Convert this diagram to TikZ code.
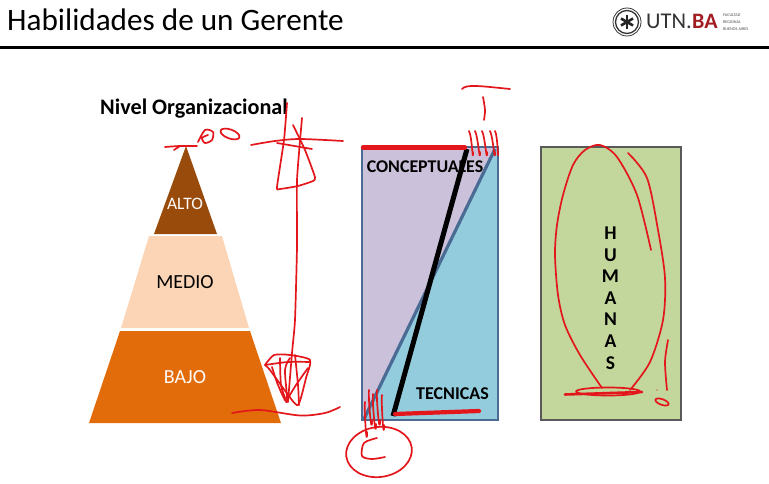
\documentclass[tikz,border=0pt]{standalone}
\usepackage{fontspec}
\setmainfont{Carlito}
\usetikzlibrary{positioning}
\definecolor{altocol}{HTML}{984B0B}
\definecolor{mediocol}{HTML}{FBD5B5}
\definecolor{bajocol}{HTML}{E36C0A}
\definecolor{purplecol}{HTML}{CCC1DA}
\definecolor{bluecol}{HTML}{93CDDD}
\definecolor{greencol}{HTML}{C3D69B}
\definecolor{edgecol}{HTML}{4A6B94}
\definecolor{inkcol}{HTML}{E3161B}
\definecolor{bacol}{HTML}{A11D21}
\tikzset{
  ink/.style={draw=inkcol, line width=1.7pt, line cap=round, line join=round},
  inkthick/.style={draw=inkcol, line width=4.2pt, line cap=round},
  label/.style={inner sep=0pt},
}
\begin{document}
\begin{tikzpicture}[x=1pt,y=-1pt]
    \useasboundingbox (0,0) rectangle (769,484);

    % Header
    \node[anchor=base west, inner sep=0pt, font=\fontsize{31.2}{33}\selectfont] (title) at (7,31) {Habilidades de un Gerente};
    \fill[black] (0,46.5) rectangle (769,49);

    % Logo
    \draw[line width=0.8pt, black!80] (627,22) circle (14);
    \draw[line width=1.3pt, black!80] (627,22) circle (11.5);
    \foreach \logoang in {90,150,210}
        \draw[line width=2.6pt, black!85] (\logoang:-7) ++(627,22) -- ++(\logoang:14);
    \node[anchor=base west, inner sep=0pt, font=\fontsize{22.5}{24}\selectfont, text=black!80] (logoutn) at (646,28.5) {UTN.};
    \node[anchor=base west, inner sep=0pt, font=\bfseries\fontsize{22}{24}\selectfont, text=bacol] (logoba) at (692,28.5) {BA};
    \node[anchor=west, inner sep=0pt, align=left, font=\fontsize{4.2}{7}\selectfont, text=black!70] (logotext) at (723,22) {FACULTAD\\REGIONAL\\BUENOS AIRES};

    % Pyramid
    \fill[altocol] (186,146) -- (217,234) -- (154,234) -- cycle;
    \fill[mediocol] (149,236) -- (222,236) -- (249,328) -- (121,328) -- cycle;
    \fill[bajocol] (120,331) -- (250,331) -- (281,423) -- (89,423) -- cycle;
    \node[anchor=base west, inner sep=0pt, font=\bfseries\fontsize{22.2}{24}\selectfont] (nivel) at (100,115) {Nivel Organizacional};
    \node[label, text=white!90!mediocol, font=\fontsize{17.5}{19}\selectfont] (alto) at (185,204) {ALTO};
    \node[label, font=\fontsize{20}{22}\selectfont] (medio) at (185,282) {MEDIO};
    \node[label, text=white!90!mediocol, font=\fontsize{20}{22}\selectfont] (bajo) at (185,377) {BAJO};

    % Conceptuales and tecnicas
    \fill[purplecol] (362,147) rectangle (498,420);
    \fill[bluecol] (495,147) -- (498,147) -- (498,420) -- (364,420) -- cycle;
    \draw[edgecol, line width=1.6pt] (362,147) rectangle (498,420);
    \draw[edgecol, line width=3.2pt] (364,419) -- (495,149);
    \draw[black, line width=5pt] (393,416) -- (467,149);
    \node[label, font=\bfseries\fontsize{17.9}{19}\selectfont] (conceptuales) at (425,167) {CONCEPTUALES};
    \node[label, font=\bfseries\fontsize{18}{19}\selectfont] (tecnicas) at (452.5,394) {TECNICAS};

    % Humanas
    \draw[fill=greencol, draw=black!65, line width=1.5pt] (541,147) rectangle (681,420);
    \node[inner sep=0pt, align=center, font=\bfseries\fontsize{19.5}{21.6}\selectfont] (humanas) at (610.5,298) {H\\U\\M\\A\\N\\A\\S};

    % Red marks, pyramid
    \draw[ink] plot[smooth] coordinates {(165,147) (180,146) (197,146)};
    \draw[ink] (174,150) -- (180,146);
    \draw[ink] plot[smooth] coordinates {(198,142) (205,130) (213,132) (212,140) (205,143) (202,138) (208,135)};
    \draw[ink, rotate around={-20:(230,134)}] (230,134) ellipse (10 and 4.5);
    \draw[ink] plot[smooth] coordinates {(251,145) (275,141) (300,139) (343,141)};
    \draw[ink] (277,143) -- (312,149);
    \draw[ink] plot[smooth, tension=0.3] coordinates {(287,103) (284,140) (277,187) (280,189) (298,186) (313,181) (315,177) (305,150) (293,125)};
    \draw[ink] plot[smooth, tension=0.3] coordinates {(302,118) (297,180) (297,247) (295,320) (292,353) (288,402)};
    \draw[ink] plot[smooth, tension=0.4] coordinates {(265,365) (274,355) (290,355) (310,360) (306,378) (298,405) (286,392) (270,370) (265,365)};
    \draw[ink] plot[smooth] coordinates {(272,367) (278,385) (287,402) (285,370) (290,358)};
    \draw[ink] plot[smooth] coordinates {(308,368) (296,385) (287,400)};
    \draw[ink] plot[smooth] coordinates {(265,365) (288,362) (310,362)};
    \draw[ink] plot[smooth] coordinates {(295,355) (298,385) (299,405)};
    \draw[ink] plot[smooth] coordinates {(280,358) (281,385) (286,400)};
    \draw[ink] plot[smooth] coordinates {(232,413) (260,410) (300,415.5) (325,413) (340,407)};

    % Red marks, middle box
    \draw[inkthick] (363,147.5) -- (465,147.5);
    \draw[inkthick] (395,414) -- (479,411);
    \draw[ink] (462,89) .. controls (466,84) and (480,86) .. (510,89);
    \draw[ink] plot[smooth] coordinates {(483,97) (485,110) (484,120)};
    \foreach \hatchx/\hatchd in {469/4, 475/5, 482/5, 490/5, 495/3}
        \draw[ink] (\hatchx,131) .. controls +(3,5) and +(0,14) .. ++(\hatchd,21);
    \foreach \hatchx/\hatchd/\hatcht in {365/2/402, 369/3/390, 373/3/394, 377/3/390, 382/2/395}
        \draw[ink] (\hatchx,\hatcht) .. controls +(-1,8) and +(0,20) .. ++(\hatchd,30);
    \draw[ink, rotate around={8:(379,452)}] (379,452) ellipse (33 and 25);
    \draw[ink] plot[smooth] coordinates {(377,438) (364,443) (362,456) (372,459) (385,457)};

    % Red marks, right box
    \draw[ink] plot[smooth] coordinates {(651,250) (637,195) (617,157) (600,145) (585,150) (573,165) (563,195) (557,225) (555,255) (558,295) (565,325) (580,355) (602,388)};
    \draw[ink] plot[smooth] coordinates {(628,153) (647,178) (658,230) (665,278) (663,320) (650,362) (630,390)};
    \draw[ink] (608,391.5) ellipse (32 and 4);
    \draw[inkthick, line width=2.6pt] (565,394.5) -- (642,392);
    \draw[ink] plot[smooth] coordinates {(668,340) (665,362) (667,390)};
    \draw[ink, rotate around={-20:(662,402)}] (662,402) ellipse (7 and 2.8);
    \fill[inkcol] (657,390) circle (0.6);
\end{tikzpicture}
\end{document}
